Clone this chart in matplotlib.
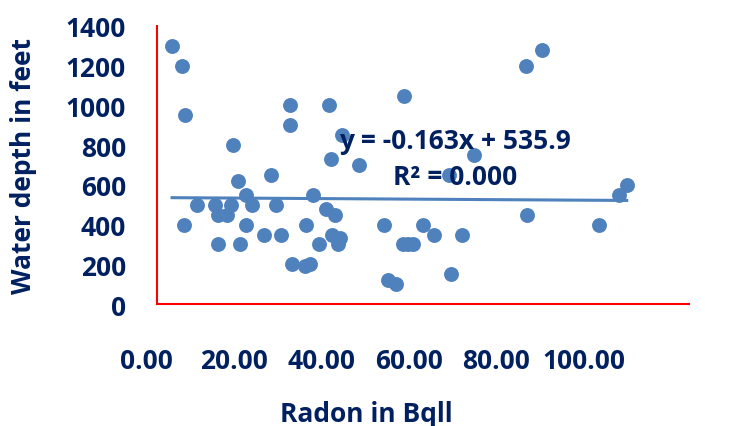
import numpy as np
import matplotlib
matplotlib.use('Agg')
import matplotlib.pyplot as plt

# radon (Bq/l) vs water depth (ft)
radon = [2.9, 4.8, 5.4, 14.3, 25.0, 25.0, 32.3, 34.9, 32.8, 21.4, 15.3, 16.7,
         29.4, 7.5, 10.9, 14.0, 18.0, 22.5, 11.5, 13.3, 31.9, 33.5, 5.1, 16.7,
         28.0, 20.2, 23.3, 33.0, 34.5, 34.1, 11.5, 15.6, 30.5, 25.5, 27.8, 28.9,
         69.4, 46.4, 38.0, 59.6, 54.9, 69.5, 42.7, 50.1, 52.1, 57.3, 46.3, 47.2,
         48.1, 43.5, 44.9, 55.2, 72.4, 88.3, 86.9, 83.1]
depth = [1300, 1200, 950, 800, 1000, 900, 1000, 850, 730, 650, 620, 550,
         550, 500, 500, 500, 500, 500, 450, 450, 480, 450, 400, 400,
         400, 350, 350, 350, 330, 300, 300, 300, 300, 200, 190, 200,
         1200, 1050, 700, 750, 650, 450, 400, 400, 350, 350, 300, 300,
         300, 120, 100, 150, 1280, 600, 550, 400]

slope = -0.163
intercept = 535.9
r2 = 0.000

xticks = [0, 20, 40, 60, 80, 100]
yticks = [0, 200, 400, 600, 800, 1000, 1200, 1400]

navy = '#002060'
dot = '#4F81BD'
plt.rcParams['font.family'] = ['Open Sans', 'DejaVu Sans']
plt.rcParams['font.weight'] = 'bold'
fs = 19

fig = plt.figure(figsize=(7.35, 4.27), dpi=100)
ax = fig.add_axes([146 / 735, 122 / 427, (689 - 146) / 735, 278 / 427])

ax.scatter(radon, depth, s=115, color=dot, zorder=3, linewidths=0)
xs = np.array([min(radon), max(radon)])
ax.plot(xs, slope * xs + intercept, color=dot, lw=2.2, zorder=2)

ax.set_xlim(-2, 100)
ax.set_ylim(0, 1400)

for s in ['top', 'right']:
    ax.spines[s].set_visible(False)
ax.spines['left'].set_position(('data', 0))
ax.spines['bottom'].set_bounds(0, 100)
for s in ['left', 'bottom']:
    ax.spines[s].set_color('red')
    ax.spines[s].set_linewidth(1.5)

# x labels in the original sit shifted left of the real axis scale
ax.set_xticks([v * 0.8214 - 1.88 for v in xticks])
ax.set_xticklabels(['%.2f' % v for v in xticks])
ax.set_yticks(yticks)
ax.tick_params(axis='x', length=0, pad=31, labelsize=fs, labelcolor=navy)
ax.tick_params(axis='y', length=0, pad=22, labelsize=fs, labelcolor=navy)

ax.set_xlabel('Radon in Bqll', fontsize=fs, color=navy, fontweight='bold')
ax.set_ylabel('Water depth in feet', fontsize=fs, color=navy, fontweight='bold')
ax.xaxis.set_label_coords(0.405, -0.345)
ax.yaxis.set_label_coords(-0.20, 0.5)

ax.text(56, 821, 'y = -0.163x + 535.9', fontsize=fs, color=navy,
        ha='center', va='center', fontweight='bold')
ax.text(56, 640, 'R² = %.3f' % r2, fontsize=fs, color=navy,
        ha='center', va='center', fontweight='bold')

fig.savefig('out.png', dpi=100)
